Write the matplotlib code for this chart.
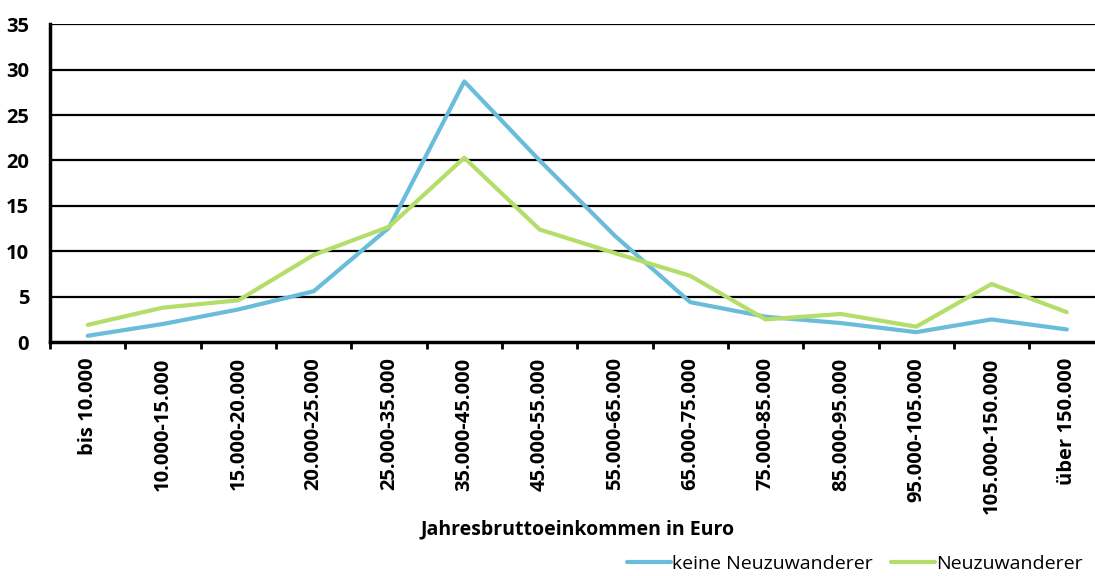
import matplotlib.pyplot as plt
import numpy as np

plt.rcParams['font.family'] = ['Open Sans', 'DejaVu Sans']

# Einkommensklassen und Anteile (in %)
klassen = ["bis 10.000", "10.000-15.000", "15.000-20.000", "20.000-25.000",
           "25.000-35.000", "35.000-45.000", "45.000-55.000", "55.000-65.000",
           "65.000-75.000", "75.000-85.000", "85.000-95.000", "95.000-105.000",
           "105.000-150.000", "über 150.000"]
keine_neu = [0.7, 2.0, 3.6, 5.6, 12.6, 28.7, 20.0, 11.7, 4.4, 2.8, 2.1, 1.1, 2.5, 1.4]
neu = [1.9, 3.8, 4.6, 9.6, 12.7, 20.3, 12.4, 9.8, 7.3, 2.5, 3.1, 1.7, 6.4, 3.3]

blau = "#69bcda"
gruen = "#b4dd69"

fig = plt.figure(figsize=(10.95, 5.76), dpi=100)
ax = fig.add_axes([0.0457, 0.406, 0.963, 0.552])

x = np.arange(len(klassen))
ax.plot(x, keine_neu, color=blau, lw=3, label="keine Neuzuwanderer", solid_capstyle="round")
ax.plot(x, neu, color=gruen, lw=3, label="Neuzuwanderer", solid_capstyle="round")

ax.set_xlim(-0.5, len(klassen) - 0.5)
ax.set_ylim(0, 35)
ax.set_yticks(range(0, 36, 5))
for yv in range(5, 36, 5):
    ax.axhline(yv, color="black", lw=1.6, zorder=0)

ax.set_xticks(x)
ax.set_xticklabels(klassen, rotation=90, fontweight="bold", fontsize=14.5)
ax.set_xticks(np.arange(-0.5, len(klassen), 1), minor=True)
ax.tick_params(axis="x", which="major", length=0, pad=11)
ax.tick_params(axis="x", which="minor", length=5, width=2, direction="out")
ax.tick_params(axis="y", length=0, pad=15)
for lab in ax.get_yticklabels():
    lab.set_fontweight("bold")
    lab.set_fontsize(14.5)

for side in ["top", "right"]:
    ax.spines[side].set_visible(False)
for side in ["left", "bottom"]:
    ax.spines[side].set_linewidth(2.5)

ax.set_xlabel("Jahresbruttoeinkommen in Euro", fontweight="bold", fontsize=14, labelpad=4)

fig.legend(loc="lower right", bbox_to_anchor=(1.005, -0.025), ncol=2, frameon=False,
           fontsize=14, handlelength=2.3, handletextpad=0.05, columnspacing=0.9)

fig.savefig("out.png", dpi=100)
